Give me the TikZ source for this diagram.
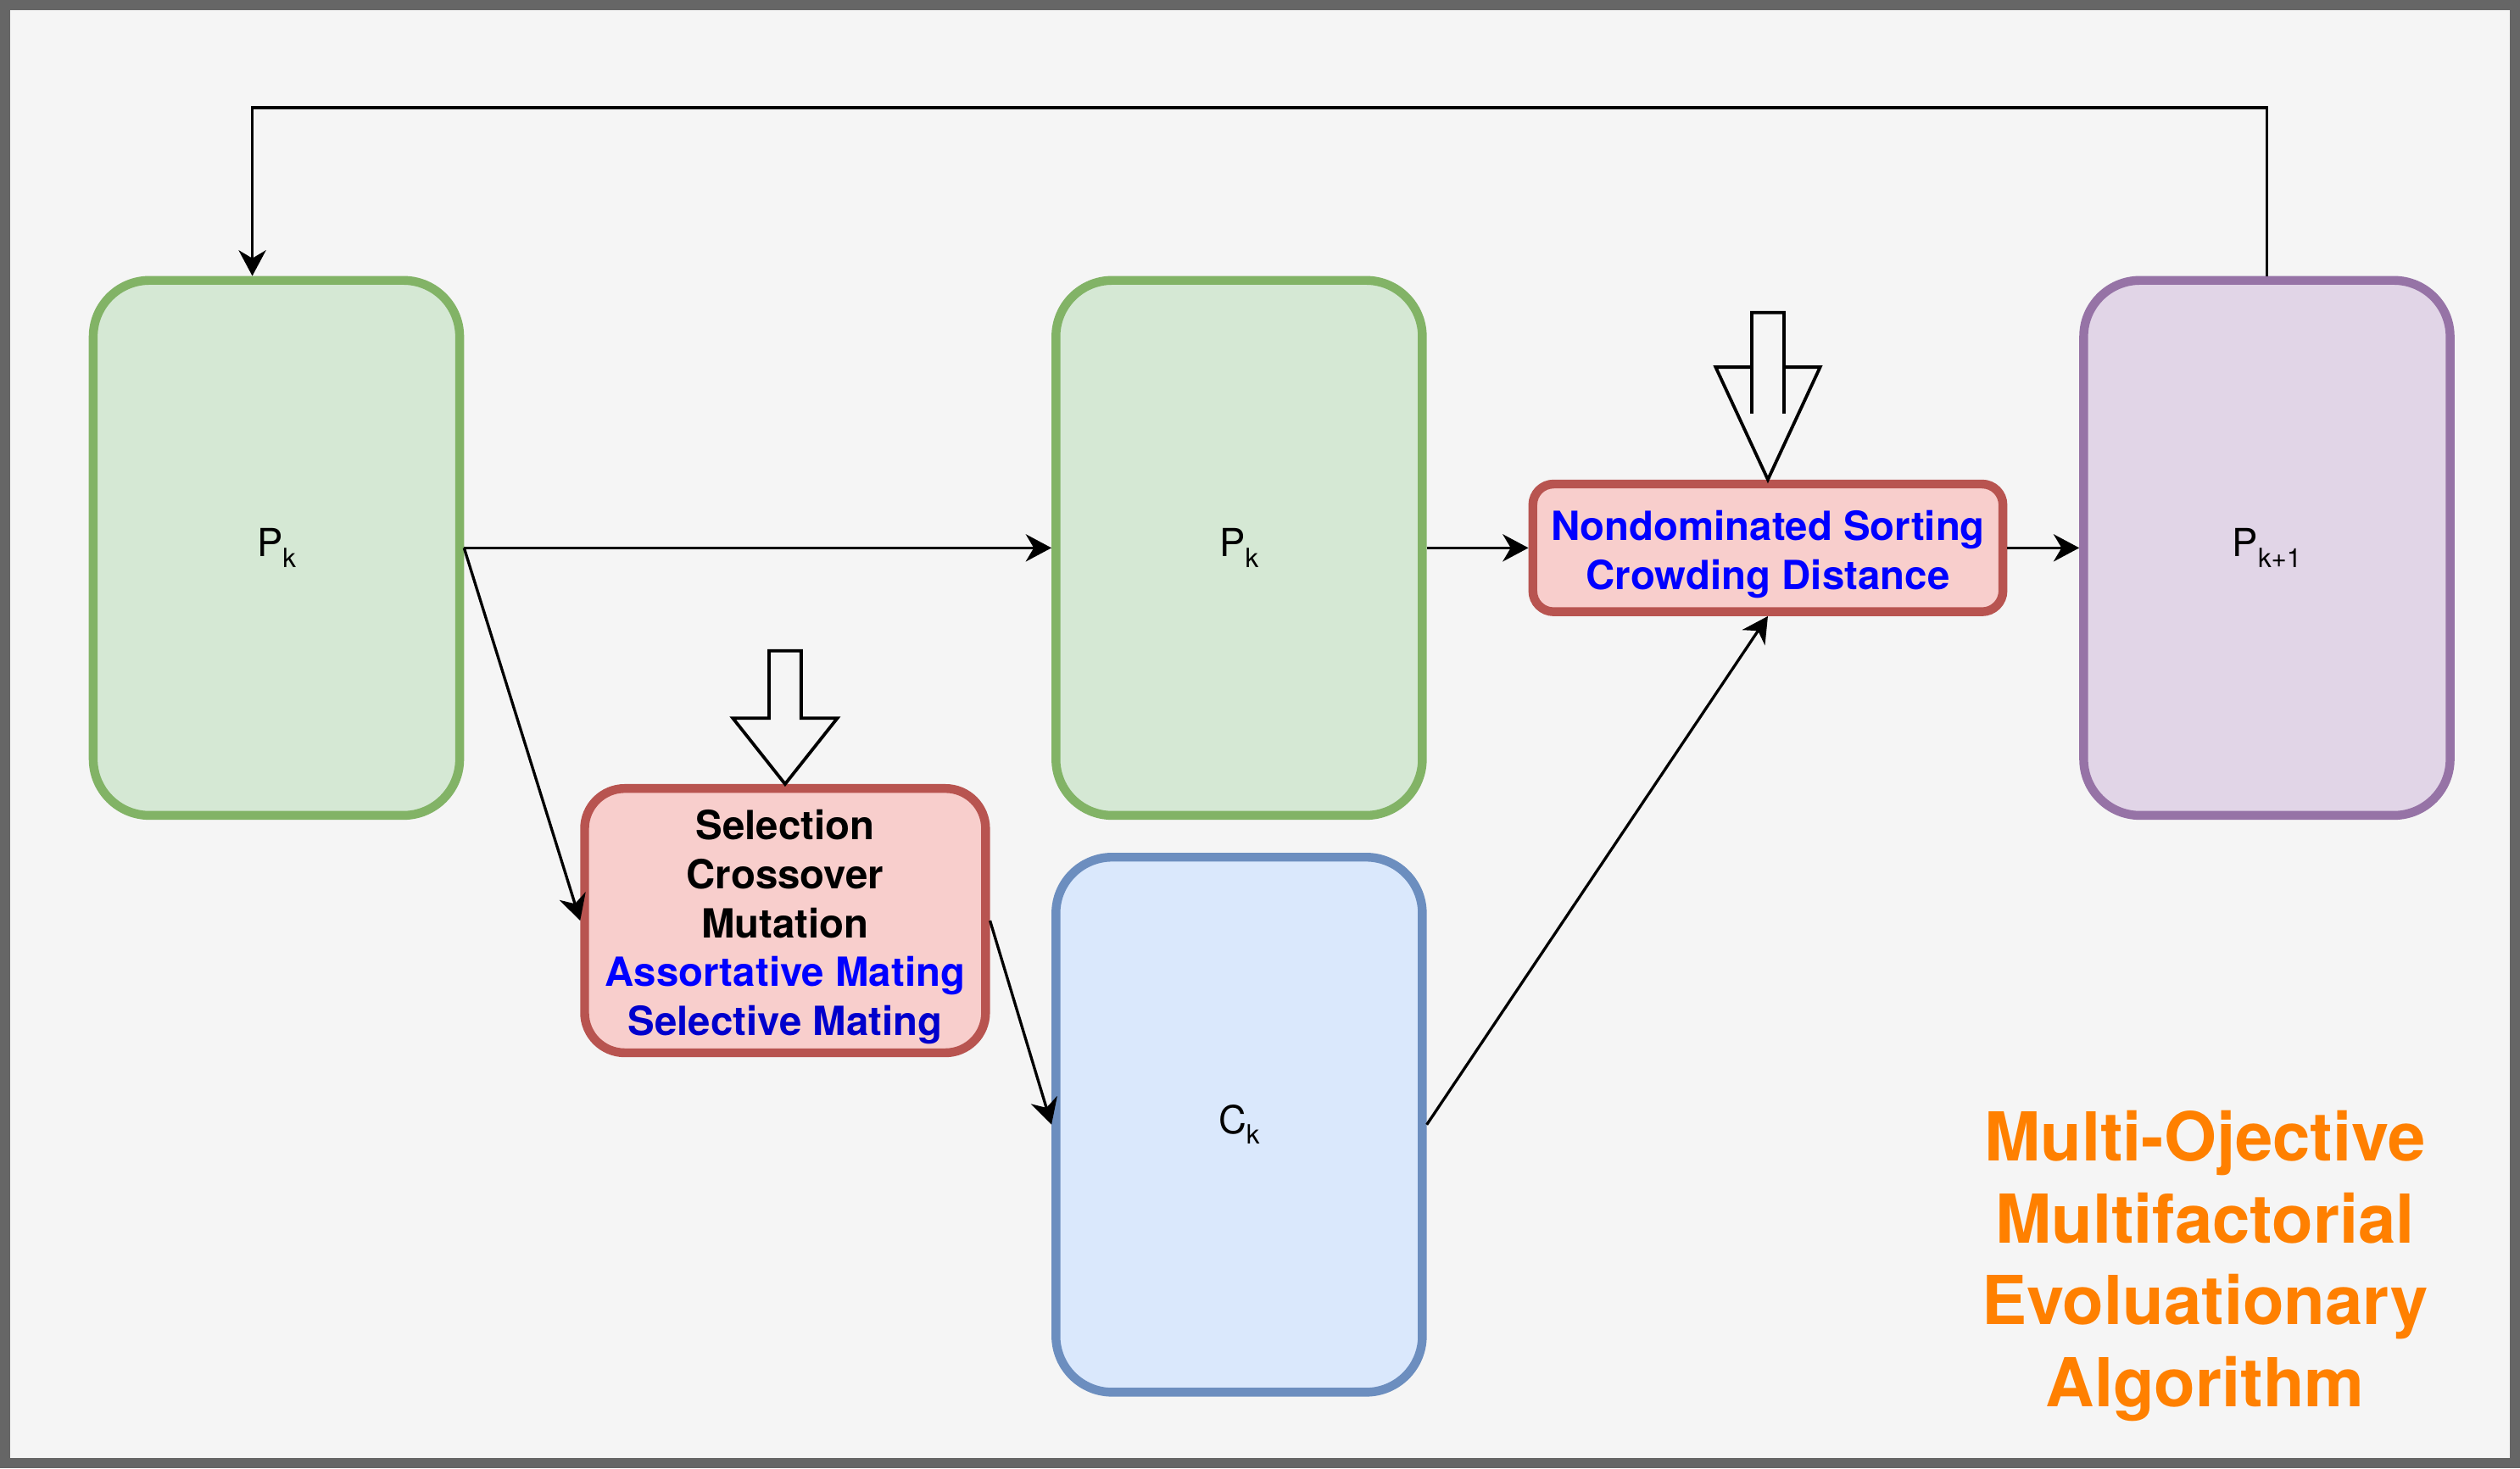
\documentclass[tikz,border=0pt]{standalone}
\usepackage{fontspec}
\setmainfont{TeX Gyre Heros}
\usetikzlibrary{arrows.meta}

\definecolor{frame}{HTML}{666666}
\definecolor{paper}{HTML}{F5F5F5}
\definecolor{greenfill}{HTML}{D5E8D4}
\definecolor{greenline}{HTML}{82B366}
\definecolor{bluefill}{HTML}{DAE8FC}
\definecolor{blueline}{HTML}{6C8EBF}
\definecolor{purplefill}{HTML}{E1D5E7}
\definecolor{purpleline}{HTML}{9673A6}
\definecolor{redfill}{HTML}{F8CECC}
\definecolor{redline}{HTML}{B85450}
\definecolor{opblue}{HTML}{0000FF}
\definecolor{opdarkblue}{HTML}{0000CC}
\definecolor{titleorange}{HTML}{FF8000}

\newcommand{\popsub}[1]{\raisebox{-6.5pt}{\fontsize{16.5}{18}\selectfont #1}}

\begin{document}
\begin{tikzpicture}[x=1pt,y=-1pt,
    every node/.style={font=\fontsize{24}{28}\selectfont},
    pop/.style={line width=5.5pt,rounded corners=35pt,minimum width=228pt,minimum height=333pt},
    oper/.style={draw=redline,fill=redfill,line width=5.5pt},
    opertext/.style={align=center,font=\fontsize{25}{30.5}\selectfont\bfseries},
    flow/.style={-{Stealth[length=16pt,width=17pt,inset=5pt]},line width=1.75pt},
    hollow/.style={draw=black,fill=paper,line width=2pt,line join=miter}]

    % frame and paper
    \fill[frame] (0,0) rectangle (1568,914);
    \fill[paper] (6.5,6.5) rectangle (1561.5,907.5);
    \useasboundingbox (0,0) rectangle (1568,914);

    % populations
    \node[pop,draw=greenline,fill=greenfill]   (pk)    at (172,341)    {P\popsub{k}};
    \node[pop,draw=greenline,fill=greenfill]   (pkb)   at (771,341)    {P\popsub{k}};
    \node[pop,draw=blueline,fill=bluefill]     (ck)    at (771,700)    {C\popsub{k}};
    \node[pop,draw=purpleline,fill=purplefill] (pnext) at (1410.5,341) {P\popsub{k+1}};

    % operators
    \node[oper,rounded corners=25pt,minimum width=249.5pt,minimum height=164.5pt,
          label={[opertext,yshift=-4pt]center:{Selection\\Crossover\\Mutation\\
          \textcolor{opblue}{Assortative Mating}\\\textcolor{opdarkblue}{Selective Mating}}}] (ga) at (488.5,573) {};
    \node[oper,rounded corners=13pt,minimum width=292.5pt,minimum height=79.5pt,
          label={[opertext,yshift=-4pt]center:{\textcolor{opblue}{Nondominated Sorting}\\
          \textcolor{opblue}{Crowding Distance}}}] (ns) at (1100,341) {};

    % title
    \node[align=center,text=titleorange,font=\fontsize{42}{51}\selectfont\bfseries] (title) at (1372,788)
        {Multi-Ojective\\Multifactorial\\Evoluationary\\Algorithm};

    % input arrows
    \draw[hollow] (ga.north) -- ++(32.5,-41) -- ++(-22.5,0) -- ++(0,-42) -- ++(-20,0)
        -- ++(0,42) -- ++(-22.5,0) -- cycle;
    \draw[hollow] (ns.north) -- ++(32.5,-70) -- ++(-22.5,0) -- ++(0,-34) -- ++(-20,0)
        -- ++(0,34) -- ++(-22.5,0) -- cycle;
    \draw[line width=2pt] ([xshift=-10pt,yshift=70pt]ns.north) -- ++(0,29)
        ([xshift=10pt,yshift=70pt]ns.north) -- ++(0,29);

    % connectors
    \coordinate (fb) at (157,67);
    \draw[flow] (pk.east) -- (pkb.west);
    \draw[flow] (pk.east) -- (ga.west);
    \draw[flow] (ga.east) -- (ck.west);
    \draw[flow] (ck.east) -- (ns.south);
    \draw[flow] (pkb.east) -- (ns.west);
    \draw[flow] (ns.east) -- (pnext.west);
    \draw[flow] (pnext.north) |- (fb) -- ([xshift=-15pt]pk.north);
\end{tikzpicture}
\end{document}
